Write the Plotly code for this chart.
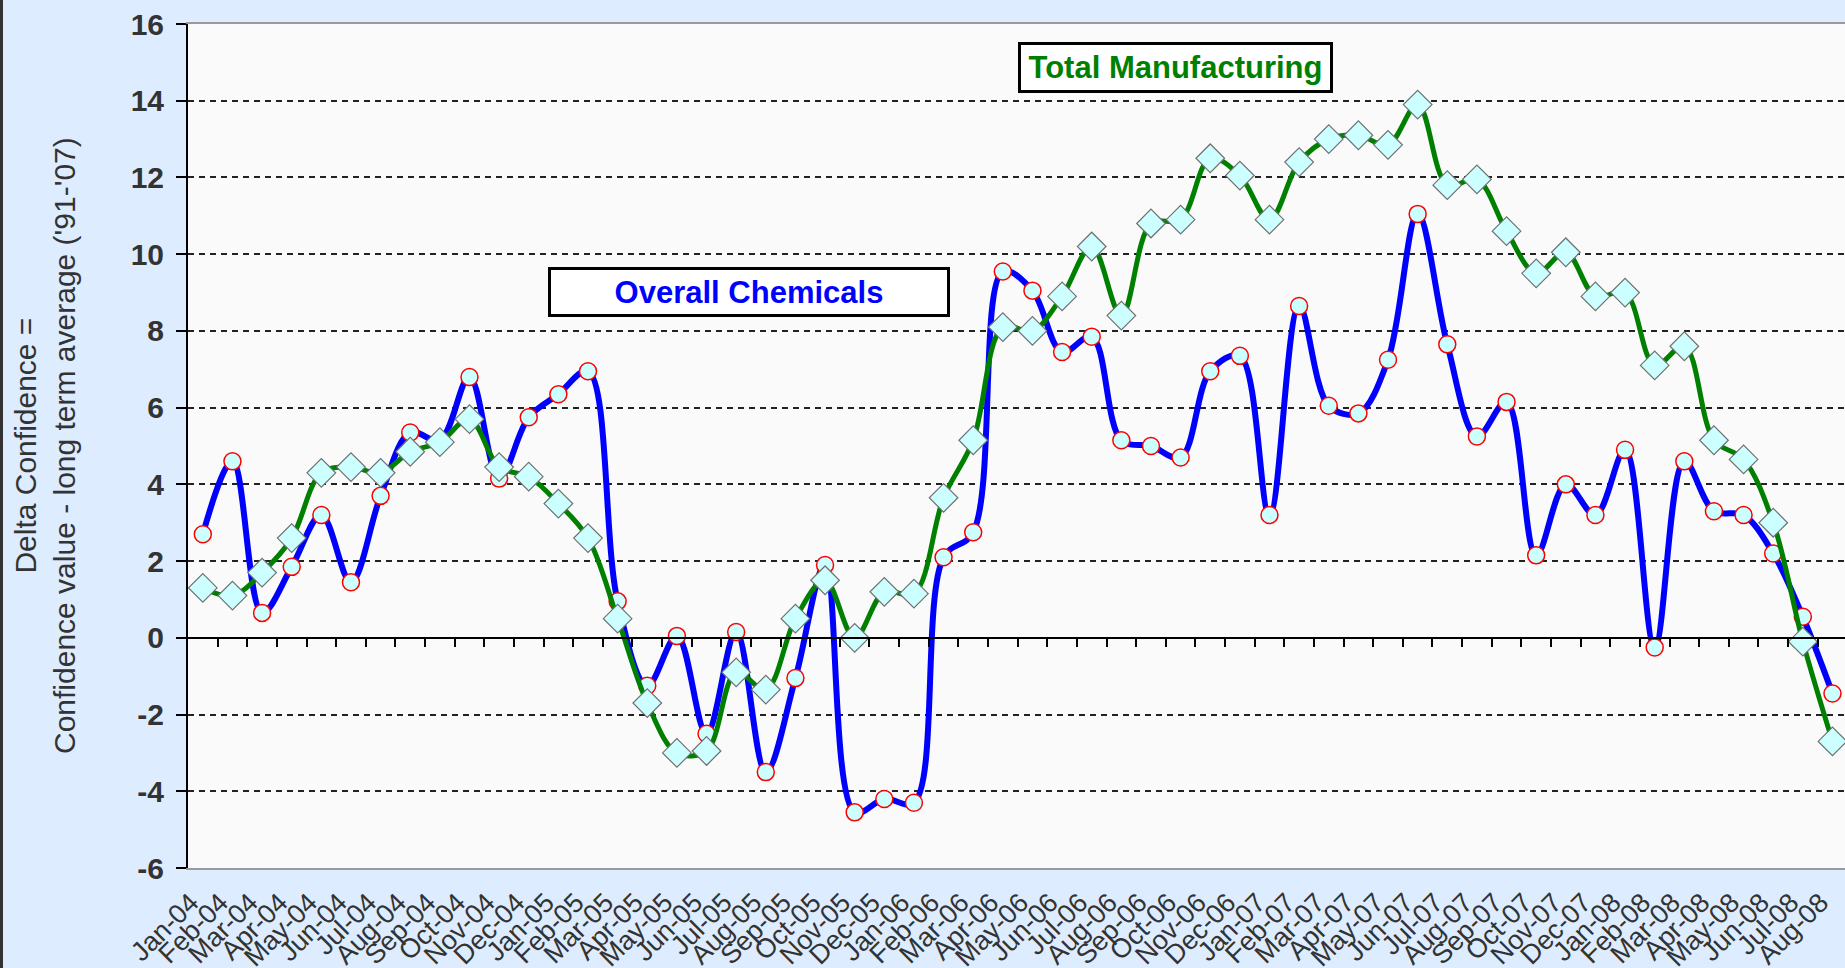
import plotly.graph_objects as go

months = ["Jan-04", "Feb-04", "Mar-04", "Apr-04", "May-04", "Jun-04", "Jul-04", "Aug-04",
          "Sep-04", "Oct-04", "Nov-04", "Dec-04", "Jan-05", "Feb-05", "Mar-05", "Apr-05",
          "May-05", "Jun-05", "Jul-05", "Aug-05", "Sep-05", "Oct-05", "Nov-05", "Dec-05",
          "Jan-06", "Feb-06", "Mar-06", "Apr-06", "May-06", "Jun-06", "Jul-06", "Aug-06",
          "Sep-06", "Oct-06", "Nov-06", "Dec-06", "Jan-07", "Feb-07", "Mar-07", "Apr-07",
          "May-07", "Jun-07", "Jul-07", "Aug-07", "Sep-07", "Oct-07", "Nov-07", "Dec-07",
          "Jan-08", "Feb-08", "Mar-08", "Apr-08", "May-08", "Jun-08", "Jul-08", "Aug-08"]

overall_chemicals = [2.7, 4.6, 0.65, 1.85, 3.2, 1.45, 3.7, 5.35, 5.15, 6.8, 4.15, 5.75,
                     6.35, 6.95, 0.95, -1.25, 0.05, -2.5, 0.15, -3.5, -1.05, 1.9, -4.55, -4.2,
                     -4.3, 2.1, 2.75, 9.55, 9.05, 7.45, 7.85, 5.15, 5.0, 4.7, 6.95, 7.35,
                     3.2, 8.65, 6.05, 5.85, 7.25, 11.05, 7.65, 5.25, 6.15, 2.15, 4.0, 3.2,
                     4.9, -0.25, 4.6, 3.3, 3.2, 2.2, 0.55, -1.45]

total_manufacturing = [1.3, 1.1, 1.7, 2.6, 4.3, 4.45, 4.3, 4.85, 5.1, 5.7, 4.45, 4.2,
                       3.5, 2.6, 0.5, -1.7, -3.0, -2.95, -0.9, -1.35, 0.5, 1.5, 0.0, 1.2,
                       1.15, 3.65, 5.15, 8.1, 8.0, 8.9, 10.2, 8.4, 10.8, 10.9, 12.5, 12.05,
                       10.9, 12.4, 13.0, 13.1, 12.85, 13.9, 11.8, 11.95, 10.6, 9.5, 10.05, 8.9,
                       9.0, 7.1, 7.6, 5.15, 4.65, 3.0, -0.1, -2.7]

y_ticks = list(range(-6, 17, 2))
y_tick_labels = [str(v) for v in y_ticks]

idx = list(range(len(months)))
FONT = "Liberation Sans, Arial, sans-serif"
PAGE_BG = "#DDEDFF"

W, H = 1845, 968
ML, MR, MT, MB = 188, 0, 24, 100
PW = W - ML - MR
PH = H - MT - MB

fig = go.Figure()

fig.add_trace(go.Scatter(
    x=idx, y=overall_chemicals, mode="lines+markers", name="Overall Chemicals",
    line=dict(color="#0000FF", width=6, shape="spline", smoothing=1.0),
    marker=dict(symbol="circle", size=17, color="#CCFFFF",
                line=dict(color="#FF0000", width=1.5)),
    showlegend=False))

fig.add_trace(go.Scatter(
    x=idx, y=total_manufacturing, mode="lines+markers", name="Total Manufacturing",
    line=dict(color="#008000", width=5, shape="spline", smoothing=1.0),
    marker=dict(symbol="diamond", size=22, color="#CCFFFF",
                line=dict(color="#707070", width=1.2)),
    showlegend=False))

# helper trace so the zero-crossing category axis (with its tick marks) is drawn
fig.add_trace(go.Scatter(x=idx, y=[None] * len(idx), xaxis="x2", yaxis="y",
                         mode="lines", showlegend=False, hoverinfo="skip"))

xr = [-0.5, -0.5 + PW / 29.63]
y_min, y_max = y_ticks[0], y_ticks[-1]

fig.update_layout(
    width=W, height=H,
    margin=dict(l=ML, r=MR, t=MT, b=MB, pad=0, autoexpand=False),
    paper_bgcolor=PAGE_BG,
    plot_bgcolor="#FAFAFA",
    font=dict(family=FONT, color="#333333"),
    xaxis=dict(
        range=xr, tickmode="array", tickvals=idx, ticktext=months,
        tickangle=-45, ticks="", showgrid=False, zeroline=False,
        showline=True, linecolor="#9A9A9A", linewidth=2, mirror=True,
        tickfont=dict(size=27, color="#333333", family=FONT),
        ticklabelshift=-12, ticklabelstandoff=6, automargin=False,
    ),
    xaxis2=dict(
        range=xr, overlaying="x", anchor="free",
        position=(0 - y_min) / (y_max - y_min),
        tickmode="array", tickvals=[i + 0.5 for i in idx[:-1]],
        ticks="outside", ticklen=8, tickwidth=2, tickcolor="#000000",
        showticklabels=False, showgrid=False, zeroline=False,
        showline=True, linecolor="#000000", linewidth=2, automargin=False,
    ),
    yaxis=dict(
        range=[y_min, y_max], tickmode="array", tickvals=y_ticks, ticktext=y_tick_labels,
        ticks="outside", ticklen=10, tickwidth=2, tickcolor="#000000",
        showline=True, linecolor="#000000", linewidth=2,
        showgrid=True, gridcolor="#222222", gridwidth=1.5, griddash="6px,5px",
        zeroline=False, automargin=False,
        tickfont=dict(size=30, color="#333333", family=FONT, weight="bold"),
        ticklabelstandoff=6,
    ),
    annotations=[
        dict(text="Delta Confidence =<br>Confidence value - long term average ('91-'07)",
             xref="paper", yref="paper", x=(45 - ML) / PW, y=0.5,
             xanchor="center", yanchor="middle", textangle=-90, showarrow=False,
             font=dict(size=30, color="#333333", family=FONT)),
        dict(text="<b>Total Manufacturing</b>", xref="paper", yref="paper",
             x=(1175.5 - ML) / PW, y=1 - (67.5 - MT) / PH,
             xanchor="center", yanchor="middle", showarrow=False,
             bgcolor="#FFFFFF", bordercolor="#000000", borderwidth=3, borderpad=3,
             width=303, height=39,
             font=dict(size=31, color="#008000", family=FONT)),
        dict(text="<b>Overall Chemicals</b>", xref="paper", yref="paper",
             x=(749 - ML) / PW, y=1 - (292 - MT) / PH,
             xanchor="center", yanchor="middle", showarrow=False,
             bgcolor="#FFFFFF", bordercolor="#000000", borderwidth=3, borderpad=3,
             width=390, height=38,
             font=dict(size=31, color="#0000FF", family=FONT)),
    ],
    shapes=[
        dict(type="line", xref="paper", yref="paper",
             x0=(1.5 - ML) / PW, x1=(1.5 - ML) / PW, y0=-1, y1=2,
             line=dict(color="#333333", width=3)),
    ],
)

fig.write_html(
    "out.html",
    config={"displayModeBar": False},
    post_script=("document.body.style.margin='0';"
                 "document.body.style.background='" + PAGE_BG + "';"
                 "document.body.style.overflow='hidden';"),
)
